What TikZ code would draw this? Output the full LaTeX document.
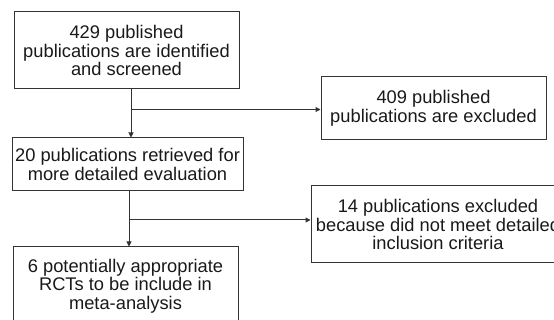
\documentclass[tikz,border=0pt]{standalone}
\usepackage{fontspec}
\setmainfont{Liberation Sans}
\usetikzlibrary{arrows.meta}
\definecolor{linegray}{HTML}{333333}
\tikzset{
  flowbox/.style={draw=linegray, line width=1pt, inner sep=0pt, align=center,
    text=black!90, font=\fontsize{18.3}{18.6}\selectfont},
  flowarrow/.style={draw=linegray, line width=1pt, -{Triangle[length=5pt,width=5pt]}}
}
\begin{document}
\begin{tikzpicture}[x=1pt,y=-1pt]
\useasboundingbox (0,0) rectangle (554,320);
% boxes
\node[flowbox, minimum width=225, minimum height=77] (screened) at (126.5,50.5)
  {429 published\\publications are identified\\and screened};
\node[flowbox, minimum width=225, minimum height=63] (excluded) at (433.5,108.5)
  {409 published\\publications are excluded};
\node[flowbox, minimum width=231, minimum height=53] (retrieved) at (127.5,164.5)
  {20 publications retrieved for\\more detailed evaluation};
\node[flowbox, minimum width=254, minimum height=77] (criteria) at (438,224.5)
  {14 publications excluded\\because did not meet detailed\\inclusion criteria};
\node[flowbox, minimum width=225, minimum height=78] (included) at (125.5,286)
  {6 potentially appropriate\\RCTs to be include in\\meta-analysis};
% junctions
\coordinate (j1) at (131,109.5);
\coordinate (j2) at (129,220);
% arrows
\draw[flowarrow] (screened.south -| j1) -- (retrieved.north -| j1);
\draw[flowarrow] (j1) -- (excluded.west |- j1);
\draw[flowarrow] (retrieved.south -| j2) -- (included.north -| j2);
\draw[flowarrow] (j2) -- (criteria.west |- j2);
\end{tikzpicture}
\end{document}
